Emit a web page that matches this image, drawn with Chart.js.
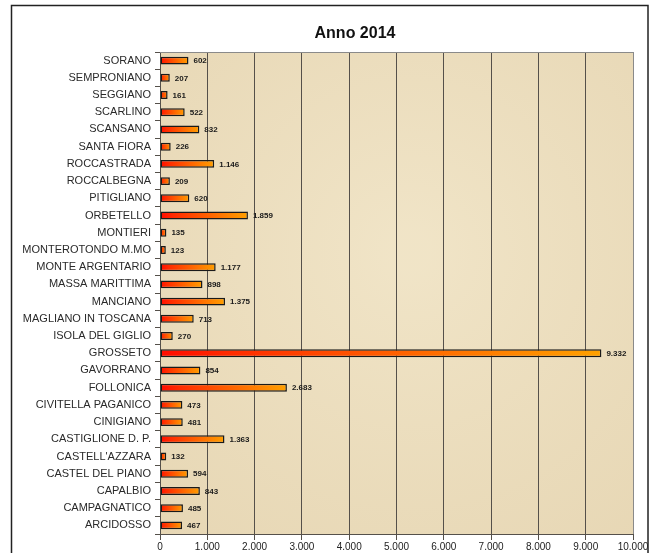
<!DOCTYPE html>
<html>
<head>
<meta charset="utf-8">
<script src="https://cdn.jsdelivr.net/npm/chart.js@4"></script>
<style>
  html, body { margin: 0; padding: 0; background: #fff; }
  #wrap { width: 654px; height: 553px; }
</style>
</head>
<body>
<div id="wrap"><canvas id="chart" width="654" height="553"></canvas></div>
<script>
// Comuni della provincia di Grosseto, dall'alto in basso
const comuni = [
  "SORANO", "SEMPRONIANO", "SEGGIANO", "SCARLINO", "SCANSANO", "SANTA FIORA",
  "ROCCASTRADA", "ROCCALBEGNA", "PITIGLIANO", "ORBETELLO", "MONTIERI",
  "MONTEROTONDO M.MO", "MONTE ARGENTARIO", "MASSA MARITTIMA", "MANCIANO",
  "MAGLIANO IN TOSCANA", "ISOLA DEL GIGLIO", "GROSSETO", "GAVORRANO",
  "FOLLONICA", "CIVITELLA PAGANICO", "CINIGIANO", "CASTIGLIONE D. P.",
  "CASTELL'AZZARA", "CASTEL DEL PIANO", "CAPALBIO", "CAMPAGNATICO", "ARCIDOSSO"
];
const valori2014 = [
  602, 207, 161, 522, 832, 226,
  1146, 209, 620, 1859, 135,
  123, 1177, 898, 1375,
  713, 270, 9332, 854,
  2683, 473, 481, 1363,
  132, 594, 843, 485, 467
];
const titolo = "Anno 2014";
const asseMax = 10000;
const asseStep = 1000;

// Numeri con il punto come separatore delle migliaia
function formatta(n) {
  return String(Math.round(n)).replace(/\B(?=(\d{3})+(?!\d))/g, ".");
}

// Sfondo pergamena, bordo esterno e titolo
const decorazioni = {
  id: "decorazioni",
  beforeDraw(chart) {
    const { ctx, chartArea: a } = chart;
    ctx.save();
    ctx.fillStyle = "#ecdebd";
    ctx.fillRect(a.left, a.top, a.right - a.left, a.bottom - a.top);
    const g = ctx.createRadialGradient(a.left + 250, a.top + 200, 20, a.left + 250, a.top + 200, 380);
    g.addColorStop(0, "rgba(243,232,205,0.6)");
    g.addColorStop(1, "rgba(226,208,172,0.5)");
    ctx.fillStyle = g;
    ctx.fillRect(a.left, a.top, a.right - a.left, a.bottom - a.top);
    ctx.restore();
  },
  afterDraw(chart) {
    const { ctx, chartArea: a } = chart;
    ctx.save();
    // bordo grigio dell'area del grafico (sopra e a destra)
    ctx.strokeStyle = "#8a8a8a";
    ctx.lineWidth = 1;
    ctx.beginPath();
    ctx.moveTo(a.left, a.top + 0.5);
    ctx.lineTo(a.right + 0.5, a.top + 0.5);
    ctx.lineTo(a.right + 0.5, a.bottom);
    ctx.stroke();
    // cornice esterna
    ctx.strokeStyle = "#222";
    ctx.lineWidth = 1.5;
    ctx.strokeRect(11.5, 5.5, 636.5, 600);
    // titolo
    ctx.fillStyle = "#111";
    ctx.font = "bold 16px 'Liberation Sans', Arial, sans-serif";
    ctx.textAlign = "center";
    ctx.textBaseline = "middle";
    ctx.fillText(titolo, 355, 34);
    ctx.restore();
  }
};

// Etichette dei valori a destra delle barre
const etichette = {
  id: "etichette",
  afterDatasetsDraw(chart) {
    const { ctx } = chart;
    const meta = chart.getDatasetMeta(0);
    ctx.save();
    ctx.fillStyle = "#1a1a1a";
    ctx.font = "bold 8px 'Liberation Sans', Arial, sans-serif";
    ctx.textAlign = "left";
    ctx.textBaseline = "middle";
    meta.data.forEach((bar, i) => {
      ctx.fillText(formatta(valori2014[i]), bar.x + 5, bar.y + 0.5);
    });
    ctx.restore();
  }
};

new Chart(document.getElementById("chart"), {
  type: "bar",
  data: {
    labels: comuni,
    datasets: [
      {
        label: titolo,
        data: valori2014,
        backgroundColor: (c) => {
          const chart = c.chart;
          if (!chart.chartArea || !chart.scales.x) return "#ff5500";
          const x = chart.scales.x;
          const x0 = x.getPixelForValue(0);
          const x1 = x.getPixelForValue(c.raw) + 1;
          const g = chart.ctx.createLinearGradient(x0, 0, x1, 0);
          g.addColorStop(0, "#ff0a00");
          g.addColorStop(0.15, "#ff2a00");
          g.addColorStop(1, "#ffa200");
          return g;
        },
        borderColor: "#1a1a1a",
        borderWidth: 1.5,
        borderSkipped: false,
        barPercentage: 0.46,
        categoryPercentage: 1,
      },
    ],
  },
  options: {
    responsive: false,
    animation: false,
    indexAxis: "y",
    layout: { padding: { left: 0, right: 21, top: 52, bottom: 0 } },
    plugins: {
      legend: { display: false },
      tooltip: { enabled: false },
      title: { display: false },
    },
    scales: {
      x: {
        min: 0,
        max: asseMax,
        afterFit: (s) => { s.height = 19; },
        ticks: {
          stepSize: asseStep,
          padding: 1,
          color: "#222",
          font: { family: "'Liberation Sans', Arial, sans-serif", size: 10 },
          callback: (v) => formatta(v),
        },
        grid: {
          color: (c) => (c.tick && c.tick.value === asseMax ? "#8a8a8a" : "#55504a"),
          lineWidth: 1,
          drawTicks: true,
          tickLength: 6,
          tickColor: "#55504a",
        },
        border: { color: "#55504a", width: 1 },
      },
      y: {
        afterFit: (s) => { s.width = 160; },
        ticks: {
          padding: 4,
          color: "#2a2a2a",
          font: { family: "'Liberation Sans', Arial, sans-serif", size: 11 },
        },
        grid: {
          offset: true,
          drawOnChartArea: false,
          drawTicks: true,
          tickLength: 5,
          tickColor: "#55504a",
        },
        border: { color: "#55504a", width: 1 },
      },
    },
  },
  plugins: [decorazioni, etichette],
});
</script>
</body>
</html>
